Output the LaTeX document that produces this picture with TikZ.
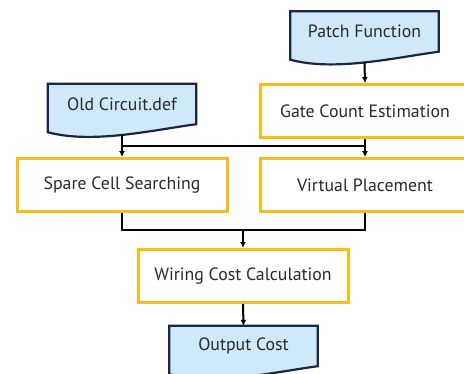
\documentclass[tikz,border=0pt]{standalone}
\usepackage{fontspec}
\setmainfont{PT Sans}
\usetikzlibrary{calc,arrows.meta}
\definecolor{docfill}{HTML}{CFE9F8}
\definecolor{docline}{HTML}{1B2545}
\definecolor{stepline}{HTML}{F9BC1C}
\definecolor{txt}{HTML}{2A2A2A}
\begin{document}
\begin{tikzpicture}[x=1pt, y=-1pt]
      \fontsize{17.8}{20}\selectfont
      \tikzstyle{stepbox}=[draw=stepline, line width=3pt, fill=white, text=txt, minimum width=210pt, minimum height=53pt]
      \tikzstyle{doc}=[text=txt, minimum width=148pt, minimum height=40pt]
      \tikzstyle{docshape}=[draw=docline, fill=docfill, line width=2.2pt]
      \tikzstyle{arrow}=[line width=2pt, -{Latex[length=6pt, width=6pt]}]
      \tikzstyle{line}=[line width=2pt]
      \clip (0,0) rectangle (464,373);

      % documents
      \node[doc] (patch) at (364.5, 31.5) {};
      \draw[docshape] (patch.north west) -- (patch.north east) -- (patch.south east)
        .. controls ($(patch.south)+(30,6)$) and ($(patch.south)+(-30,20)$) .. ($(patch.south west)+(0,8)$) -- cycle;
      \node[text=txt] at (patch) {Patch Function};
      \coordinate (patchend) at ($(patch.south)+(0,11)$);

      \node[doc] (old) at (122, 104) {};
      \draw[docshape] (old.north west) -- (old.north east) -- (old.south east)
        .. controls ($(old.south)+(30,6)$) and ($(old.south)+(-30,20)$) .. ($(old.south west)+(0,8)$) -- cycle;
      \node[text=txt] at (old) {Old Circuit.def};
      \coordinate (oldend) at ($(old.south)+(0,11)$);

      \node[doc] (out) at (243.5, 346) {};
      \draw[docshape] (out.north west) -- (out.north east) -- (out.south east)
        .. controls ($(out.south)+(30,6)$) and ($(out.south)+(-30,20)$) .. ($(out.south west)+(0,8)$) -- cycle;
      \node[text=txt] at (out) {Output Cost};

      % steps
      \node[stepbox] (gate)    at (365, 111) {Gate Count Estimation};
      \node[stepbox] (spare)   at (122, 185) {Spare Cell Searching};
      \node[stepbox] (virtual) at (365, 185) {Virtual Placement};
      \node[stepbox] (wiring)  at (243, 276) {Wiring Cost Calculation};

      \coordinate (j1) at (243, 146);
      \coordinate (j2) at (243, 230);

      \draw[arrow] (patchend) to (gate.north);
      \draw[arrow] (oldend) to (spare.north);
      \draw[arrow] (gate.south) to (virtual.north);
      \draw[line] (j1 -| spare) to (j1 -| virtual);
      \draw[line] (spare.south) -- (spare.south |- j2) -- (virtual.south |- j2) -- (virtual.south);
      \draw[arrow] (j2) to (wiring.north);
      \draw[arrow] (wiring.south) to (out.north);
    \end{tikzpicture}
\end{document}
